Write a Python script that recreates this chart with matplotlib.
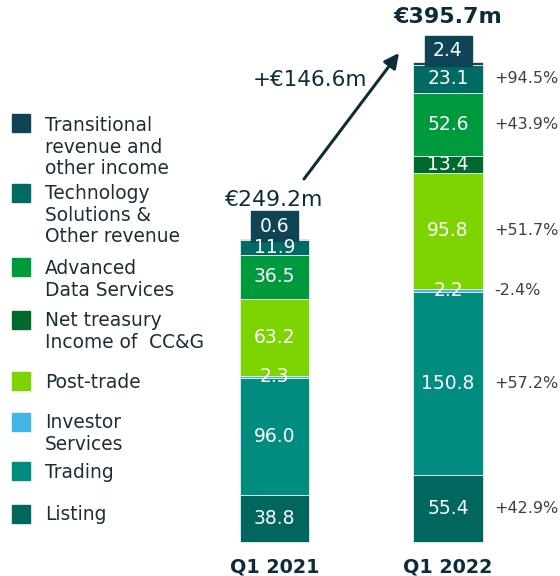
import matplotlib
matplotlib.use("Agg")
import matplotlib.pyplot as plt
from matplotlib.patches import Rectangle

plt.rcParams['font.family'] = ['DejaVu Sans']

categories = ["Listing", "Trading", "Investor\nServices", "Post-trade",
              "Net treasury\nIncome of  CC&G", "Advanced\nData Services",
              "Technology\nSolutions &\nOther revenue",
              "Transitional\nrevenue and\nother income"]
colors = ["#00665e", "#008c7f", "#45b5e5", "#7ed400", "#006a2e",
          "#009a3e", "#006a63", "#0e4456"]
periods = ["Q1 2021", "Q1 2022"]
q1_2021 = [38.8, 96.0, 2.3, 63.2, 0.0, 36.5, 11.9, 0.6]
q1_2022 = [55.4, 150.8, 2.2, 95.8, 13.4, 52.6, 23.1, 2.4]
growth = ["+42.9%", "+57.2%", "-2.4%", "+51.7%", None, "+43.9%", "+94.5%", None]
totals = ["€249.2m", "€395.7m"]
delta = "+€146.6m"

W, H = 560, 576
fig = plt.figure(figsize=(W / 100, H / 100), dpi=100)
ax = fig.add_axes([0, 0, 1, 1])
px_per_unit = 1.214
bottom_px = 542
ax.set_ylim(-(H - bottom_px) / px_per_unit, bottom_px / px_per_unit)
xs = [0, 1]
spacing = 173.5
ax.set_xlim(-274.5 / spacing, 1 + (W - 448) / spacing)
ax.axis("off")
bw = 69.5 / spacing

dark = "#0d2c3a"
series = [q1_2021, q1_2022]
for xi, vals in zip(xs, series):
    base = 0
    for k, (v, c) in enumerate(zip(vals, colors)):
        if v > 0:
            ax.bar(xi, v, bw, bottom=base, color=c, edgecolor="#e8f0f0",
                   linewidth=0.6, zorder=2)
        if k < len(vals) - 1 and v > 0:
            ax.text(xi, base + v / 2, f"{v:.1f}", ha="center", va="center",
                    color="white", fontsize=13.5, zorder=4)
        base += v
    # top small segment label in box
    top_v = vals[-1]
    top_base = base - top_v
    bx_w = 47 / spacing
    bx_h = 30 / px_per_unit
    cy = top_base + 14 / px_per_unit
    ax.add_patch(Rectangle((xi - bx_w / 2, cy - bx_h / 2), bx_w, bx_h,
                           color=colors[-1], zorder=3))
    ax.text(xi, cy, f"{top_v:.1f}", ha="center", va="center", color="white",
            fontsize=13.5, zorder=4)
    ax.text(xi, -25 / px_per_unit, periods[xi], ha="center", va="center",
            color=dark, fontsize=13.8, fontweight="bold")

# growth labels
base = 0
for v, g in zip(q1_2022, growth):
    if g:
        ax.text(1 + 46 / spacing, base + v / 2, g, ha="left", va="center",
                color="#404040", fontsize=11.5)
    base += v

# totals
ax.text(0, (bottom_px - 200) / px_per_unit, totals[0], ha="center",
        va="center", color=dark, fontsize=15.8)
ax.text(1, (bottom_px - 17) / px_per_unit, totals[1], ha="center",
        va="center", color=dark, fontsize=16, fontweight="bold")
ax.text((310 - 274.5) / spacing, (bottom_px - 80) / px_per_unit, delta,
        ha="center", va="center", color=dark, fontsize=15.5)
ax.annotate("", xy=((399 - 274.5) / spacing, (bottom_px - 53) / px_per_unit),
            xytext=((304 - 274.5) / spacing, (bottom_px - 179) / px_per_unit),
            arrowprops=dict(arrowstyle="-|>", color="#0d2c3a", lw=2.2,
                            mutation_scale=22, shrinkA=0, shrinkB=0))

# legend in pixel coordinates
lg = fig.add_axes([0, 0, 1, 1])
lg.set_xlim(0, W)
lg.set_ylim(H, 0)
lg.axis("off")
lg.patch.set_alpha(0)
legend_y = [514, 472, 422, 382, 320, 268, 193, 125]
sq_y = [514, 471, 422, 381, 320, 267, 193, 123]
for lab, c, ty, sy in zip(categories, colors, legend_y, sq_y):
    lg.add_patch(Rectangle((12, sy - 9), 18, 18, color=c))
    lg.text(45, ty - 9, lab, ha="left", va="top", color="#1a2e38",
            fontsize=13.4, linespacing=1.17)

fig.savefig("out.png", dpi=100)
